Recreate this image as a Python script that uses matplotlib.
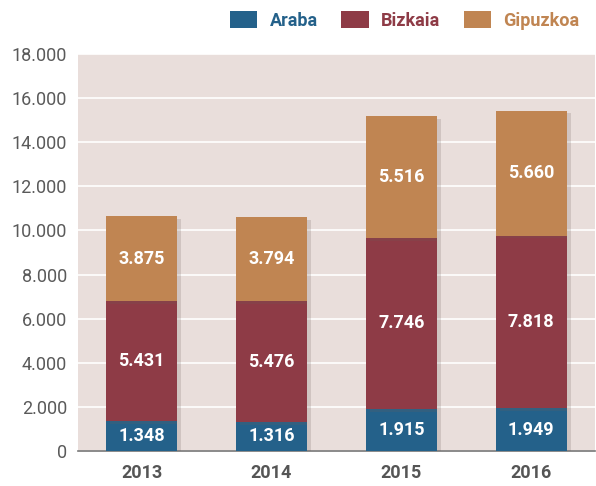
import matplotlib.pyplot as plt
import matplotlib.patheffects as pe
import numpy as np

years = ["2013", "2014", "2015", "2016"]
araba = [1348, 1316, 1915, 1949]
bizkaia = [5431, 5476, 7746, 7818]
gipuzkoa = [3875, 3794, 5516, 5660]

series = ["Araba", "Bizkaia", "Gipuzkoa"]
colores = ["#24618a", "#8e3b46", "#c08552"]

plt.rcParams["font.family"] = ["Liberation Sans Narrow", "Roboto", "DejaVu Sans"]


def fmt(v):
    return f"{v:,}".replace(",", ".")


fig = plt.figure(figsize=(5.96, 4.86), dpi=100)
ax = fig.add_axes([0.131, 0.072, 0.867, 0.817])
ax.set_facecolor("#e9dedb")

x = np.arange(len(years))
ancho = 0.546
base = np.zeros(len(years))
todas = []

for nombre, datos, color in zip(series, [araba, bizkaia, gipuzkoa], colores):
    barras = ax.bar(x, datos, ancho, bottom=base, color=color, label=nombre, zorder=3)
    todas.extend(barras)
    for xi, b0, v in zip(x, base, datos):
        ax.text(xi, b0 + v / 2, fmt(v), ha="center", va="center", color="white",
                fontsize=13, fontweight="bold", zorder=5)
    base = base + np.array(datos)

ax.set_ylim(0, 18000)
ax.set_xlim(-0.49, 3.49)
ax.set_yticks(range(0, 18001, 2000))
ax.set_yticklabels([fmt(v) for v in range(0, 18001, 2000)], color="#5a5a5a", fontsize=13)
ax.set_xticks(x)
ax.set_xticklabels(years, color="#555555", fontsize=13, fontweight="bold")
ax.yaxis.grid(True, color="white", linewidth=1.2, zorder=1)
ax.set_axisbelow(True)
ax.tick_params(length=0, pad=8)
ax.tick_params(axis="x", pad=9)
for s in ["top", "right", "left"]:
    ax.spines[s].set_visible(False)
ax.spines["bottom"].set_color("#777777")
ax.spines["bottom"].set_linewidth(1.2)

leg = fig.legend(loc="upper right", bbox_to_anchor=(1.0, 1.01), ncol=3, frameon=False,
                 handlelength=1.5, handleheight=1.0, handletextpad=0.7, columnspacing=1.3,
                 prop={"size": 13, "weight": "bold"})
for t, c in zip(leg.get_texts(), colores):
    t.set_color(c)

# sombra suave solo en las barras (despues de la leyenda)
sombra = [pe.SimplePatchShadow(offset=(3, -2), shadow_rgbFace="#6e5e5a", alpha=0.2), pe.Normal()]
for b in todas:
    b.set_path_effects(sombra)

fig.savefig("out.png", dpi=100)
